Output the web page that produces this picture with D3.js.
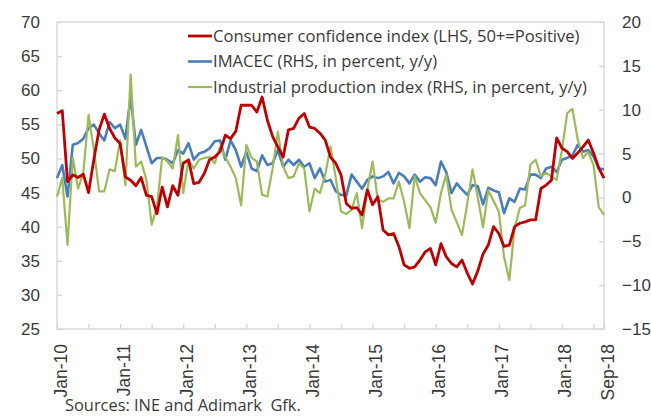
<!DOCTYPE html>
<html>
<head>
<meta charset="utf-8">
<script src="https://cdnjs.cloudflare.com/ajax/libs/d3/7.8.5/d3.min.js"></script>
<style>
  body { margin: 0; background: #fff; }
  svg { font-family: 'Open Sans', sans-serif; }
</style>
</head>
<body>
<div id="chart"></div>
<script>
// monthly, Jan-10 .. Sep-18
let consumerConfidence = [
  56.6, 57, 46.6, 47.6, 47.2, 47.7, 45, 49.8, 54.2, 56.5, 54.4, 53,
  52.2, 47.3, 46.8, 46, 47.2, 44.6, 44.4, 41.9, 45.8, 42.9, 46, 44.6,
  49.3, 49.8, 46.3, 46.5, 47.8, 49.8, 50.2, 51, 53.4, 52.9, 54, 57.8,
  57.8, 57.8, 56.8, 59, 55.6, 53.2, 51.7, 50.2, 54.2, 54.4, 55.9, 56.6,
  54.6, 54.4, 53.7, 52.7, 50.2, 49.3, 47.6, 43.4, 42.7, 42.8, 41.7, 45.4,
  43.2, 44.4, 39.5, 38.8, 39, 37.1, 34.4, 33.9, 34.1, 35.1, 36.3, 36.8,
  34.4, 37.5, 35.6, 34.6, 34.1, 35.1, 33.2, 31.6, 33.5, 36, 37.3, 40,
  39, 37.1, 37.3, 40, 40.5, 40.7, 41, 41, 45.6, 46.1, 46.8, 53,
  51.5, 51, 50, 50.8, 51.7, 52.7, 50.8, 48.6, 47.1
]
let imacec = [
  2.2, 3.7, 0.1, 6, 6.2, 6.7, 7.9, 8.3, 7.3, 6.5, 8.6, 7.9,
  8.3, 6.7, 11.5, 6, 7.7, 5.8, 3.9, 4.5, 4.5, 4.3, 3.9, 5.4,
  5, 6.2, 4.3, 5, 5.2, 5.6, 6.4, 6.5, 4.3, 6.5, 5.4, 3.5,
  5.2, 3.3, 3, 4.8, 3.7, 3.9, 5.4, 3.5, 4.3, 3.7, 4.3, 3.5,
  3.9, 2.2, 3.3, 1.8, 2, 0.7, 0.3, 0.2, 2.6, 1.8, 1, 2,
  2.4, 2.2, 2.4, 2.9, 1.6, 2.8, 2.4, 1.6, 2.6, 1.8, 2.3, 2.2,
  1.4, 4.1, 2.9, 0.5, 1.6, 0.9, 0.3, 1.4, 1.3, -0.8, 1.1, 0.8,
  0.6, -1.8, -0.1, -0.5, 1, 0.9, 2.6, 2.6, 2.2, 3.3, 3.5, 2.9,
  4.3, 4.5, 4.8, 6, 5.2, 5.4, 4.7, 3.3, 3.2
]
let industrialProduction = [
  0.1, 2.2, -5.4, 4.5, 1, 2.8, 9.4, 5.5, 0.7, 0.7, 3.2, 3,
  6.5, 1.4, 14, 3.5, 4.1, 2, -3.1, -1.1, 4.6, 4.1, 3.3, 7.1,
  0.5, 4.3, 3.3, 4.3, 4.5, 4.6, 3.9, 5.8, 4.6, 3.5, 2.2, -0.9,
  6, 4.5, 4.1, 0.3, 0.1, 3.3, 7.5, 3.5, 2.2, 2.4, 3.9, 3.3,
  -1.6, 1, 0.5, 2.6, 5.8, 2.2, -1.6, -1.9, -1.4, 0.5, -3.5, 0.9,
  4.1, -0.3, -0.5, -0.1, -0.1, 1.8, -0.5, -3.5, 2.4, 0.5, -0.3, -1.1,
  -2.9, 0.5, 2.6, -1.4, -2.8, -4.3, -0.7, 3.2, 0, -3.4, 0.8, -0.4,
  -1.6, -6.8, -9.4, -3.5, -1.2, -0.9, 3.7, 4.3, 2.4, 2.8, 2.4, 2,
  5.4, 9.6, 10.1, 6.6, 4.5, 5.2, 3.7, -1.1, -2
]

let leftTicks = [25, 30, 35, 40, 45, 50, 55, 60, 65, 70]
let rightTicks = [-15, -10, -5, 0, 5, 10, 15, 20]
let xTickMonths = [0, 6, 12, 18, 24, 30, 36, 42, 48, 54, 60, 66, 72, 78, 84, 90, 96, 102, 104]
let xLabelMonths = [0, 12, 24, 36, 48, 60, 72, 84, 96, 104]
let xLabels = ['Jan-10', 'Jan-11', 'Jan-12', 'Jan-13', 'Jan-14', 'Jan-15', 'Jan-16', 'Jan-17', 'Jan-18', 'Sep-18']

let seriesNames = [
  'Consumer confidence index (LHS, 50+=Positive)',
  'IMACEC (RHS, in percent, y/y)',
  'Industrial production index (RHS, in percent, y/y)'
]
let seriesColors = ['#c00000', '#4a7ebb', '#9bbb59']

let size = { width: 651, height: 416 }
let margin = { top: 22, right: 47, bottom: 87, left: 57 }
let chartWidth = size.width - margin.left - margin.right
let chartHeight = size.height - margin.top - margin.bottom
let textColor = '#3a3a3a'
let frameColor = '#d4d4d4'

let svg = d3.select('#chart').append('svg')
  .attr('width', size.width)
  .attr('height', size.height)

let chartArea = svg.append('g')
  .attr('transform', 'translate(' + margin.left + ',' + margin.top + ')')

let xScale = d3.scaleLinear().domain([0, consumerConfidence.length - 1]).range([0, chartWidth])
let yLeft = d3.scaleLinear().domain([25, 70]).range([chartHeight, 0])
let yRight = d3.scaleLinear().domain([-15, 20]).range([chartHeight, 0])

chartArea.append('rect')
  .attr('width', chartWidth)
  .attr('height', chartHeight)
  .attr('fill', 'none')
  .attr('stroke', frameColor)
  .attr('stroke-width', 1.3)

let leftAxis = chartArea.append('g')
  .call(d3.axisLeft(yLeft).tickValues(leftTicks).tickSizeInner(-5).tickSizeOuter(0).tickPadding(17))
let rightAxis = chartArea.append('g')
  .attr('transform', 'translate(' + chartWidth + ',0)')
  .call(d3.axisRight(yRight).tickValues(rightTicks).tickSizeInner(-5).tickSizeOuter(0).tickPadding(18))
let bottomAxis = chartArea.append('g')
  .attr('transform', 'translate(0,' + chartHeight + ')')
  .call(d3.axisBottom(xScale).tickValues(xTickMonths).tickSizeInner(-5).tickSizeOuter(0)
    .tickFormat(function(d){
      let k = xLabelMonths.indexOf(d)
      return k < 0 ? '' : xLabels[k]
    }))

chartArea.selectAll('.domain').remove()
chartArea.selectAll('.tick line').attr('stroke', frameColor).attr('stroke-width', 1.3)
leftAxis.selectAll('text').style('font-size', '17px').style('fill', textColor)
rightAxis.selectAll('text').style('font-size', '17px').style('fill', textColor)
bottomAxis.selectAll('text')
  .style('font-size', '17.5px')
  .style('fill', textColor)
  .style('text-anchor', 'end')
  .attr('x', 0)
  .attr('y', 0)
  .attr('dy', '0')
  .attr('transform', 'translate(9,15) rotate(-90)')

let allSeries = [
  { values: consumerConfidence, scale: yLeft, width: 2.8 },
  { values: imacec, scale: yRight, width: 2.6 },
  { values: industrialProduction, scale: yRight, width: 2.2 }
]

allSeries.forEach(function(s, k){
  let line = d3.line()
    .x(function(d, i){ return xScale(i) })
    .y(function(d){ return s.scale(d) })
  chartArea.append('path')
    .datum(s.values)
    .attr('fill', 'none')
    .attr('stroke', seriesColors[k])
    .attr('stroke-width', s.width)
    .attr('stroke-linejoin', 'round')
    .attr('d', line)
})

// draw red on top like the original
chartArea.selectAll('path').filter(function(d, i){ return i === 0 }).raise()

let legend = svg.append('g').attr('transform', 'translate(188,36)')
seriesNames.forEach(function(name, k){
  let row = legend.append('g').attr('transform', 'translate(0,' + (k * 25.5) + ')')
  row.append('line')
    .attr('x1', 0).attr('x2', 24)
    .attr('stroke', seriesColors[k])
    .attr('stroke-width', allSeries[k].width)
  row.append('text')
    .attr('x', 25)
    .attr('dy', '0.35em')
    .style('font-size', '16.6px')
    .style('fill', textColor)
    .text(name)
})

svg.append('text')
  .attr('x', 65)
  .attr('y', 411)
  .style('font-size', '16.4px')
  .style('fill', textColor)
  .style('white-space', 'pre')
  .text('Sources: INE and Adimark  Gfk.')
</script>
</body>
</html>
